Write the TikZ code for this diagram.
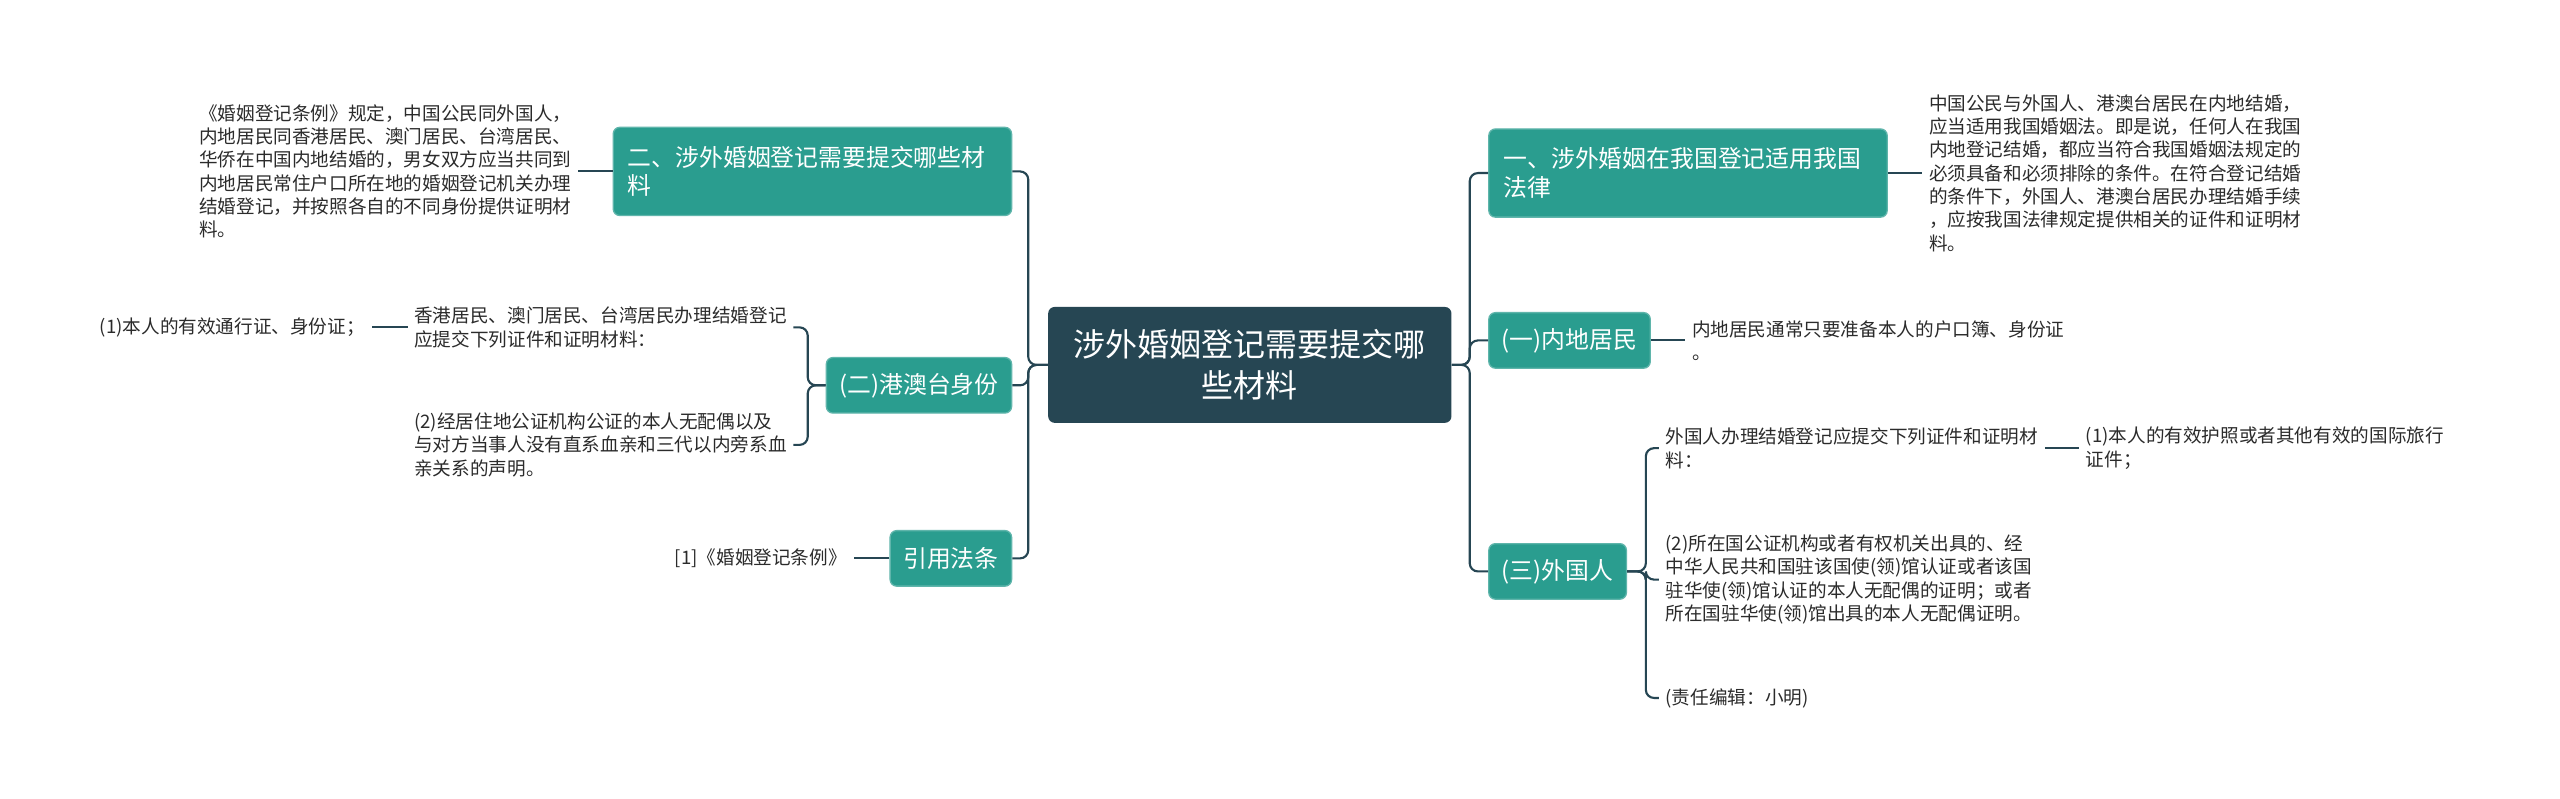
\documentclass[tikz,border=0pt]{standalone}
\usepackage{fontspec}
\setmainfont{Noto Sans CJK SC}
\definecolor{rootcol}{HTML}{264653}
\definecolor{topiccol}{HTML}{2A9D8F}
\definecolor{linkcol}{HTML}{264653}
\definecolor{leafcol}{HTML}{2B2B2B}
\usetikzlibrary{positioning}

\begin{document}
\begin{tikzpicture}[
  x=1pt, y=-1pt,
  every node/.style={font=\fontsize{11.4}{14.3}\selectfont},
  rootbox/.style={rectangle, rounded corners=4pt, fill=rootcol, text=white,
                  font=\fontsize{19.6}{25}\selectfont, align=center,
                  text width=218pt, inner xsep=14.5pt, minimum height=71pt},
  topic/.style={rectangle, rounded corners=4pt, fill=topiccol,
                draw=topiccol!75!white, line width=0.8pt, text=white,
                font=\fontsize{14.6}{17.5}\selectfont,
                inner xsep=8pt, minimum height=34pt},
  widetopic/.style={topic, align=left, text width=226pt,
                    inner xsep=9pt, minimum height=54pt},
  leaf/.style={text=leafcol, align=left, inner xsep=4pt, inner ysep=2pt},
  link/.style={draw=linkcol, line width=1.3pt, rounded corners=5pt},
]

\fill[white] (0,0) rectangle (1568,489);
\useasboundingbox (0,0) rectangle (1568,489);

%% Root
\node[rootbox] (root) at (765.5,223.5) {涉外婚姻登记需要提交哪\\些材料};

%% Left side
\node[widetopic, anchor=east] (sec2) at (620,105) {二、涉外婚姻登记需要提交哪些材\\料};
\node[topic, anchor=east] (hkid) at (620,236) {(二)港澳台身份};
\node[topic, anchor=east] (cite) at (620,342) {引用法条};

\node[leaf, left=21pt of sec2] (sec2note) {《婚姻登记条例》规定，中国公民同外国人，\\
  内地居民同香港居民、澳门居民、台湾居民、\\
  华侨在中国内地结婚的，男女双方应当共同到\\
  内地居民常住户口所在地的婚姻登记机关办理\\
  结婚登记，并按照各自的不同身份提供证明材\\
  料。};
\node[leaf, anchor=east] (hkfirst) at (486,200.5) {香港居民、澳门居民、台湾居民办理结婚登记\\
  应提交下列证件和证明材料：};
\node[leaf, anchor=east] (hksecond) at (486,272.5) {(2)经居住地公证机构公证的本人无配偶以及\\
  与对方当事人没有直系血亲和三代以内旁系血\\
  亲关系的声明。};
\node[leaf, left=22pt of hkfirst] (hkpass) {(1)本人的有效通行证、身份证；};
\node[leaf, left=22pt of cite] (citenote) {[1]《婚姻登记条例》};

\draw[link] (root.west) -- ++(-12pt,0pt) |- (sec2.east);
\draw[link] (root.west) -- ++(-12pt,0pt) |- (hkid.east);
\draw[link] (root.west) -- ++(-12pt,0pt) |- (cite.east);
\draw[link] (sec2.west) -- (sec2note.east);
\draw[link] (hkid.west) -- ++(-11pt,0pt) |- (hkfirst.east);
\draw[link] (hkid.west) -- ++(-11pt,0pt) |- (hksecond.east);
\draw[link] (hkfirst.west) -- (hkpass.east);
\draw[link] (cite.west) -- (citenote.east);

%% Right side
\node[widetopic, anchor=west] (sec1) at (911.5,106) {一、涉外婚姻在我国登记适用我国\\法律};
\node[topic, anchor=west] (mainland) at (911.5,208.5) {(一)内地居民};
\node[topic, anchor=west] (foreign) at (911.5,350) {(三)外国人};

\node[leaf, right=21pt of sec1] (sec1note) {中国公民与外国人、港澳台居民在内地结婚，\\
  应当适用我国婚姻法。即是说，任何人在我国\\
  内地登记结婚，都应当符合我国婚姻法规定的\\
  必须具备和必须排除的条件。在符合登记结婚\\
  的条件下，外国人、港澳台居民办理结婚手续\\
  ，应按我国法律规定提供相关的证件和证明材\\
  料。};
\node[leaf, right=21pt of mainland] (mainnote) {内地居民通常只要准备本人的户口簿、身份证\\
  。};
\node[leaf, anchor=west] (fgfirst) at (1016,274.5) {外国人办理结婚登记应提交下列证件和证明材\\
  料：};
\node[leaf, right=21pt of fgfirst] (fgpass) {(1)本人的有效护照或者其他有效的国际旅行\\
  证件；};
\node[leaf, anchor=west] (fgsecond) at (1016,355) {(2)所在国公证机构或者有权机关出具的、经\\
  中华人民共和国驻该国使(领)馆认证或者该国\\
  驻华使(领)馆认证的本人无配偶的证明；或者\\
  所在国驻华使(领)馆出具的本人无配偶证明。};
\node[leaf, anchor=west] (editor) at (1016,427.5) {(责任编辑：小明)};

\draw[link] (root.east) -- ++(11pt,0pt) |- (sec1.west);
\draw[link] (root.east) -- ++(11pt,0pt) |- (mainland.west);
\draw[link] (root.east) -- ++(11pt,0pt) |- (foreign.west);
\draw[link] (sec1.east) -- (sec1note.west);
\draw[link] (mainland.east) -- (mainnote.west);
\draw[link] (foreign.east) -- ++(11.5pt,0pt) |- (fgfirst.west);
\draw[link] (foreign.east) -- ++(11.5pt,0pt) |- (fgsecond.west);
\draw[link] (foreign.east) -- ++(11.5pt,0pt) |- (editor.west);
\draw[link] (fgfirst.east) -- (fgpass.west);

\end{tikzpicture}
\end{document}
